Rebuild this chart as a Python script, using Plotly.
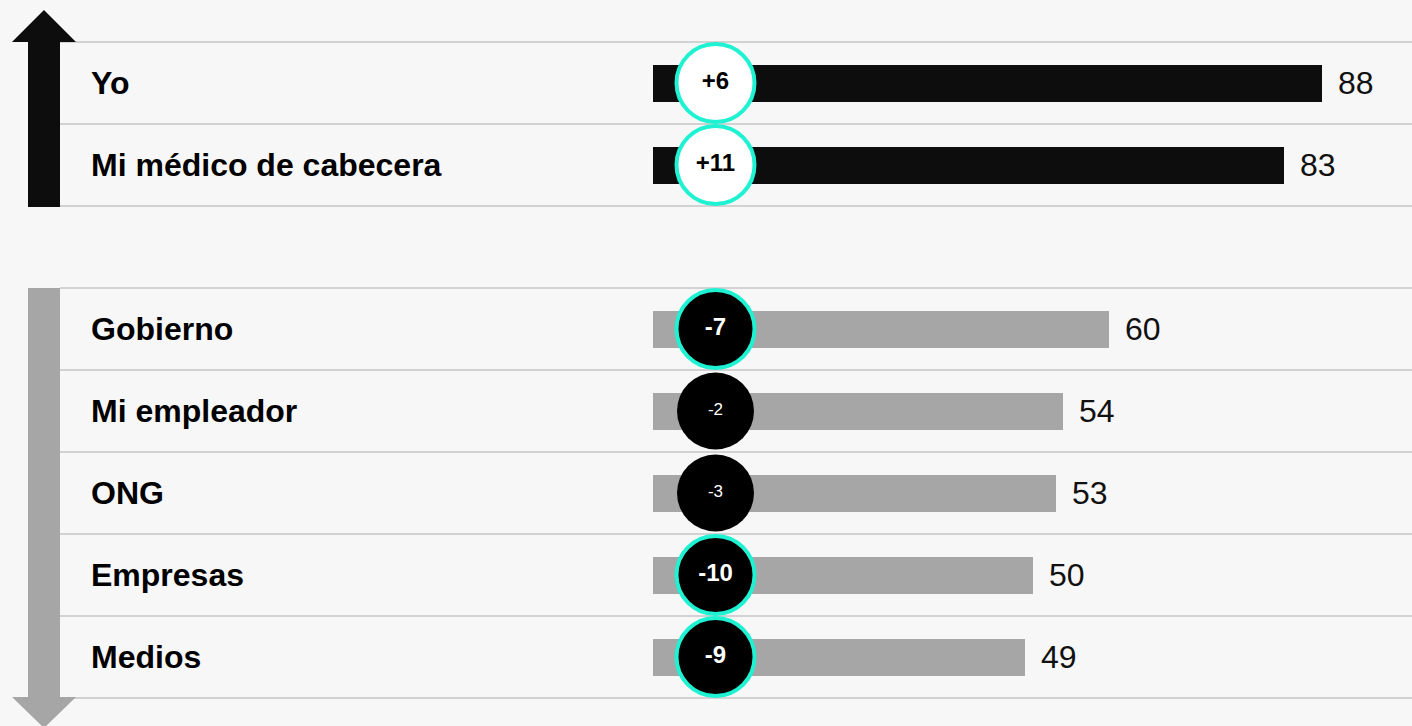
import plotly.graph_objects as go

# ---- data ----
categories = ["Yo", "Mi médico de cabecera", "Gobierno", "Mi empleador", "ONG", "Empresas", "Medios"]
values = [88, 83, 60, 54, 53, 50, 49]
changes = [6, 11, -7, -2, -3, -10, -9]
significant = [True, True, True, False, False, True, True]
group = ["up", "up", "down", "down", "down", "down", "down"]

# ---- layout helpers ----
W, H = 1412, 726
X0_PX = 653.0          # pixel of value 0
PX_PER_UNIT = 7.6
ROW0_PX = 83.0
ROW_PX = 82.0

# row positions: a one-row gap between the two groups
rows = []
pos = 0
for i, g in enumerate(group):
    if i > 0 and g != group[i - 1]:
        pos += 1
    rows.append(pos)
    pos += 1

x_range = [-X0_PX / PX_PER_UNIT, (W - X0_PX) / PX_PER_UNIT]
y_range = [(H - ROW0_PX) / ROW_PX, -ROW0_PX / ROW_PX]

BLACK = "#0d0d0d"
GREY = "#a6a6a6"
TURQ = "#1ef2d2"
BG = "#f7f7f7"
LINE = "#d2d2d2"
FONT = "Arial, 'Liberation Sans', sans-serif"

bar_colors = [BLACK if g == "up" else GREY for g in group]

fig = go.Figure()

fig.add_trace(go.Bar(
    x=values, y=rows, orientation="h", width=37 / ROW_PX,
    marker=dict(color=bar_colors, line=dict(width=0)),
    hoverinfo="skip", showlegend=False,
))

# change circles
circle_x = (715.5 - X0_PX) / PX_PER_UNIT
circ_fill, circ_line, circ_lw, circ_size, circ_text, circ_tcolor, circ_tsize = [], [], [], [], [], [], []
for c, s in zip(changes, significant):
    label = f"+{c}" if c > 0 else f"{c}"
    if c > 0:
        circ_fill.append("#ffffff"); circ_tcolor.append("#000000")
    else:
        circ_fill.append("#000000"); circ_tcolor.append("#ffffff")
    if s:
        circ_line.append(TURQ); circ_lw.append(4); circ_size.append(78)
        circ_text.append(f"<b>{label}</b>"); circ_tsize.append(24)
    else:
        circ_line.append("#000000"); circ_lw.append(0); circ_size.append(77)
        circ_text.append(label); circ_tsize.append(17)

fig.add_trace(go.Scatter(
    x=[circle_x] * len(changes), y=rows, mode="markers+text",
    marker=dict(size=circ_size, color=circ_fill, opacity=1,
                line=dict(color=circ_line, width=circ_lw)),
    text=circ_text, textposition="middle center",
    textfont=dict(family=FONT, size=circ_tsize, color=circ_tcolor),
    hoverinfo="skip", showlegend=False, cliponaxis=False,
))

annotations = []
for cat, v, r in zip(categories, values, rows):
    annotations.append(dict(
        x=89 / W, xref="paper", y=r, yref="y", text=f"<b>{cat}</b>",
        showarrow=False, xanchor="left", yanchor="middle",
        font=dict(family=FONT, size=32, color="#000000"),
    ))
    annotations.append(dict(
        x=v, xref="x", y=r, yref="y", text=str(v),
        showarrow=False, xanchor="left", yanchor="middle", xshift=14,
        font=dict(family=FONT, size=32, color="#111111"),
    ))

shapes = []
# separators
for r in rows:
    for yy in (r - 0.5, r + 0.5):
        shapes.append(dict(type="line", xref="paper", yref="y",
                           x0=60 / W, x1=1, y0=yy, y1=yy,
                           line=dict(color=LINE, width=2), layer="below"))


def px(x, y):
    return f"{x / W:.5f},{1 - y / H:.5f}"


up_path = ("M " + px(28, 207) + " L " + px(28, 42) + " L " + px(12, 42) + " L " + px(44, 10)
           + " L " + px(76, 42) + " L " + px(60, 42) + " L " + px(60, 207) + " Z")
down_path = ("M " + px(28, 288) + " L " + px(28, 697) + " L " + px(12, 697) + " L " + px(44, 728)
             + " L " + px(76, 697) + " L " + px(60, 697) + " L " + px(60, 288) + " Z")
shapes.append(dict(type="path", xref="paper", yref="paper", path=up_path,
                   fillcolor=BLACK, line=dict(width=0), layer="above"))
shapes.append(dict(type="path", xref="paper", yref="paper", path=down_path,
                   fillcolor=GREY, line=dict(width=0), layer="above"))

fig.update_layout(
    width=W, height=H,
    margin=dict(l=0, r=0, t=0, b=0),
    paper_bgcolor=BG, plot_bgcolor=BG,
    xaxis=dict(range=x_range, visible=False, fixedrange=True),
    yaxis=dict(range=y_range, visible=False, fixedrange=True),
    shapes=shapes, annotations=annotations,
    bargap=0, showlegend=False,
)

fig.write_html(
    "out.html",
    config={"displayModeBar": False},
    post_script="document.body.style.margin='0px';document.body.style.overflow='hidden';"
                "document.body.style.background='" + BG + "';",
)
